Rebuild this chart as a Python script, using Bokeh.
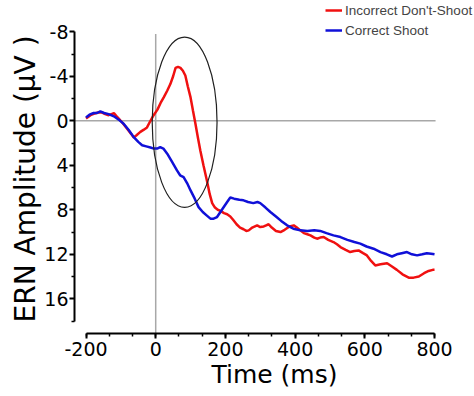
from bokeh.plotting import figure
from bokeh.models import Range1d, FixedTicker, Legend, LegendItem, CustomJSTickFormatter, Title
from bokeh.embed import file_html
from bokeh.resources import INLINE

# ---- data ----
red_t = [-200, -187, -178, -165, -155, -145, -135, -127, -120, -112, -106, -95, -82, -70, -63, -55, -44, -34, -25, -15,
         -6, 5, 14, 23, 33, 42, 50, 57, 64, 71, 78, 85, 92, 100, 107, 114, 121, 128, 137, 147, 155, 162, 170, 178, 186,
         196, 205, 214, 222, 232, 242, 252, 260, 267, 277, 291, 300, 310, 317, 324, 333, 345, 358, 370, 384, 396, 405,
         415, 425, 435, 444, 455, 463, 472, 482, 495, 510, 520, 530, 545, 558, 570, 582, 595, 606, 618, 630, 645, 664,
         678, 692, 708, 726, 740, 755, 770, 783, 795, 800]
red_v = [-0.2, -0.5, -0.63, -0.75, -0.75, -0.6, -0.5, -0.6, -0.68, -0.4, -0.2, 0.2, 0.72, 1.2, 1.5, 1.3, 1.0, 0.8, 0.6, 0.0,
         -0.5, -1.0, -1.6, -2.1, -2.7, -3.3, -4.0, -4.75, -4.85, -4.75, -4.5, -4.07, -3.1, -2.1, -0.9, 0.27, 1.5, 2.67, 4.0,
         5.4, 6.6, 7.4, 7.8, 8.0, 8.1, 8.3, 8.4, 8.6, 8.9, 9.3, 9.6, 9.75, 9.9, 9.85, 9.6, 9.4, 9.55, 9.5, 9.4, 9.3, 9.6,
         9.9, 10.0, 9.8, 9.5, 9.4, 9.6, 9.85, 10.1, 10.2, 10.3, 10.5, 10.6, 10.5, 10.45, 10.7, 10.9, 11.1, 11.35, 11.6,
         11.8, 11.7, 11.65, 11.9, 12.1, 12.6, 13.0, 12.9, 12.8, 13.1, 13.4, 13.8, 14.1, 14.1, 14.0, 13.7, 13.5, 13.4, 13.4]

blue_t = [-200, -190, -178, -168, -159, -148, -135, -120, -106, -92, -78, -63, -50, -39, -27, -15, -5, 4, 13, 22, 33, 47,
          61, 70, 80, 90, 100, 112, 123, 135, 146, 157, 166, 176, 190, 205, 214, 225, 240, 252, 265, 280, 292, 300, 315,
          329, 345, 360, 377, 395, 415, 435, 455, 472, 490, 510, 530, 550, 570, 587, 605, 625, 645, 663, 678, 692, 706,
          721, 735, 750, 765, 778, 790, 800]
blue_v = [-0.3, -0.55, -0.7, -0.7, -0.85, -0.7, -0.6, -0.4, -0.1, 0.27, 0.8, 1.47, 1.9, 2.2, 2.3, 2.4, 2.5, 2.5, 2.37, 2.5,
          2.96, 3.7, 4.46, 4.9, 5.06, 5.6, 6.26, 7.0, 7.76, 8.2, 8.5, 8.8, 8.8, 8.65, 8.0, 7.3, 6.9, 7.0, 7.1, 7.15, 7.3,
          7.4, 7.3, 7.4, 7.8, 8.2, 8.6, 9.0, 9.4, 9.7, 9.85, 9.9, 9.85, 9.9, 10.1, 10.3, 10.45, 10.7, 10.9, 11.04, 11.3,
          11.5, 11.8, 12.0, 12.2, 12.0, 11.9, 11.8, 12.0, 12.1, 12.0, 11.9, 11.95, 12.0]

x_ticks = [-200, 0, 200, 400, 600, 800]
y_ticks = [-8, -4, 0, 4, 8, 12, 16]
y_minor = [-6, -2, 2, 6, 10, 14, 18]
x_minor = [-200 + i * 200 / 3 for i in range(16)]
x_bounds = (-200, 800)
y_bounds = (-8, 18)

series_labels = ["Incorrect Don't-Shoot", "Correct Shoot"]
x_title = "Time (ms)"
y_title = "ERN Amplitude (µV )"

# highlight ellipse (centre time, centre amplitude, width ms, height uV)
ell_x, ell_y, ell_w, ell_h = 83, 0.13, 186, 15.3

FONT = "DejaVu Sans"
LFONT = "Liberation Sans"
X_LEFT, X_RIGHT = -233, 914.7
Y_BOTTOM, Y_TOP = 19.12, -10.81

p = figure(width=474, height=396, output_backend="svg", toolbar_location=None,
           x_range=Range1d(X_LEFT, X_RIGHT), y_range=Range1d(Y_BOTTOM, Y_TOP),
           min_border_left=74, min_border_right=0, min_border_top=0, min_border_bottom=63)
p.outline_line_color = None
p.xgrid.visible = False
p.ygrid.visible = False

# zero reference lines
p.segment(x0=[X_LEFT], y0=[0], x1=[x_bounds[1] + 3], y1=[0], line_color="#a8a8a8", line_width=1.5)
p.segment(x0=[0], y0=[y_bounds[0] + 0.2], x1=[0], y1=[Y_BOTTOM], line_color="#a8a8a8", line_width=1.5)

r_red = p.line(red_t, red_v, line_color="#f01010", line_width=2.5)
r_blue = p.line(blue_t, blue_v, line_color="#1010d8", line_width=2.5)

p.ellipse(x=[ell_x], y=[ell_y], width=[ell_w], height=[ell_h], fill_color=None,
          line_color="#202020", line_width=1.2)

fmt = CustomJSTickFormatter(code="return String(tick);")
for ax in (p.xaxis[0], p.yaxis[0]):
    ax.formatter = fmt
    ax.axis_line_width = 2
    ax.axis_line_color = "black"
    ax.major_tick_line_width = 2
    ax.minor_tick_line_width = 1.5
    ax.major_tick_in = 0
    ax.minor_tick_in = 0
    ax.major_tick_out = 5
    ax.minor_tick_out = 3
    ax.major_label_text_font = FONT
    ax.major_label_text_font_size = "19px"
    ax.major_label_text_color = "black"

p.xaxis[0].ticker = FixedTicker(ticks=x_ticks, minor_ticks=x_minor)
p.yaxis[0].ticker = FixedTicker(ticks=y_ticks, minor_ticks=y_minor)
p.xaxis[0].bounds = x_bounds
p.yaxis[0].bounds = y_bounds
p.xaxis[0].major_label_standoff = 3
p.yaxis[0].major_label_standoff = 1

p.xaxis[0].axis_label = x_title
p.xaxis[0].axis_label_text_font = FONT
p.xaxis[0].axis_label_text_font_size = "25px"
p.xaxis[0].axis_label_text_font_style = "normal"
p.xaxis[0].axis_label_text_color = "black"
p.xaxis[0].axis_label_standoff = 1

p.add_layout(Title(text=y_title, align="left", offset=11, standoff=0,
                   text_font=FONT, text_font_size="28px", text_font_style="normal",
                   text_color="black"), "left")

legend = Legend(items=[LegendItem(label=series_labels[0], renderers=[r_red]),
                       LegendItem(label=series_labels[1], renderers=[r_blue])],
                location=(251, 293), padding=0, margin=0, spacing=0,
                glyph_width=17, glyph_height=20, label_height=20, label_standoff=3,
                label_text_font=LFONT, label_text_font_size="13.5px",
                border_line_color=None, background_fill_alpha=0)
p.add_layout(legend)

open("out.html", "w").write(file_html(p, INLINE))
